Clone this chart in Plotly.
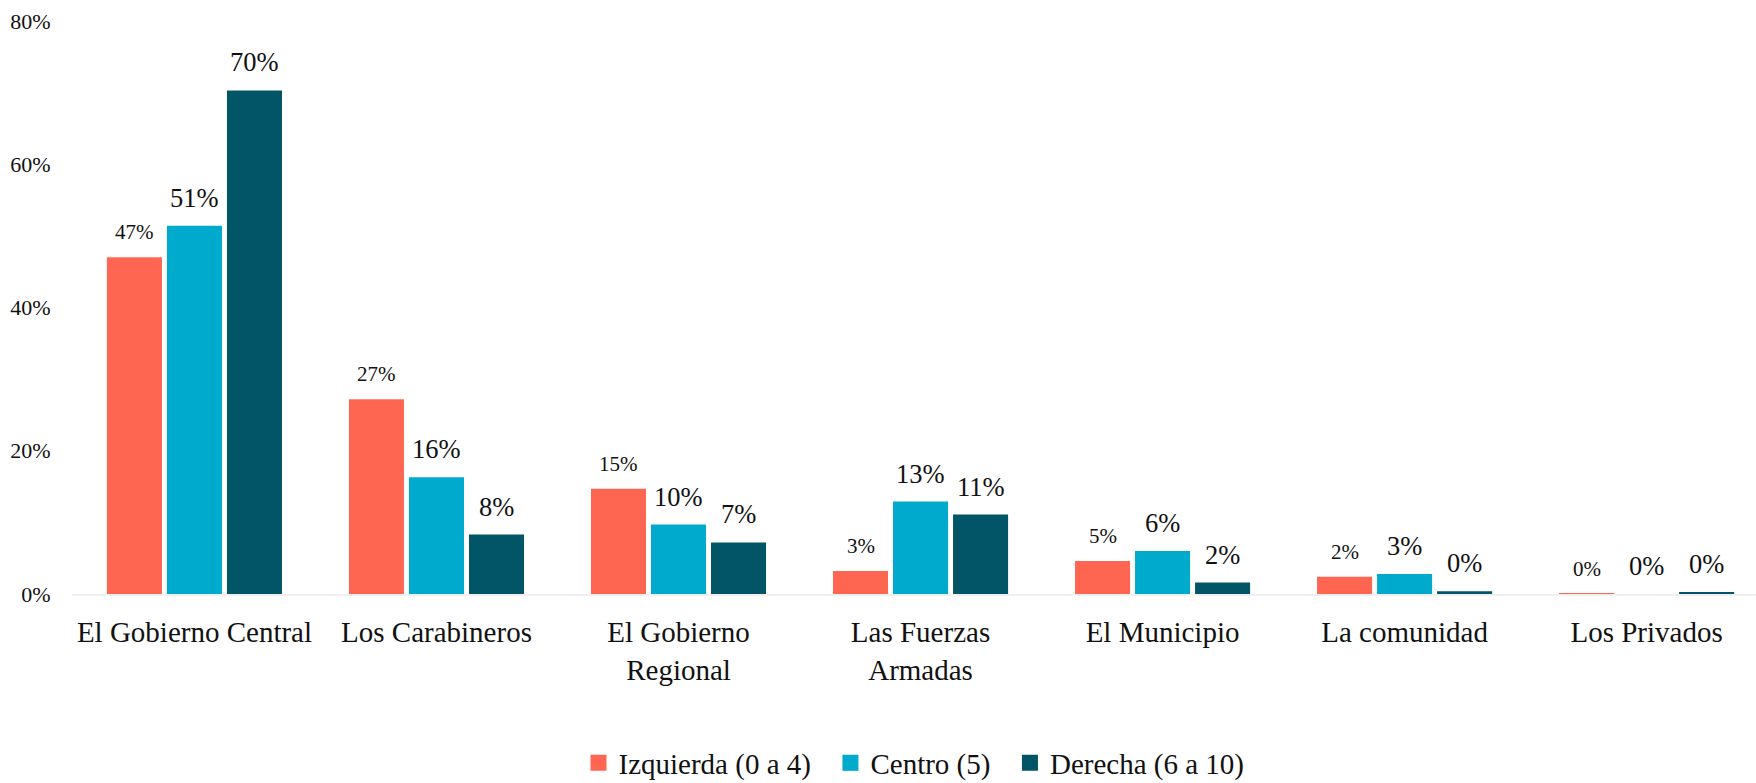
import plotly.graph_objects as go

categories = ["El Gobierno Central", "Los Carabineros", "El Gobierno<br>Regional",
              "Las Fuerzas<br>Armadas", "El Municipio", "La comunidad", "Los Privados"]

izquierda = [47.0, 27.2, 14.7, 3.2, 4.6, 2.4, 0.05]
centro = [51.4, 16.3, 9.7, 12.9, 6.0, 2.8, 0.0]
derecha = [70.3, 8.3, 7.2, 11.1, 1.6, 0.4, 0.25]

series_names = ["Izquierda (0 a 4)", "Centro (5)", "Derecha (6 a 10)"]
series_colors = ["#FF6652", "#00AACD", "#025566"]
label_sizes = [21, 26.5, 26.5]

y_ticks = [0, 20, 40, 60, 80]
y_tick_labels = ["0%", "20%", "40%", "60%", "80%"]

FONT = "Palatino Linotype, Book Antiqua, Palatino, Liberation Serif, serif"
TXT = "#111111"
SLOT_PX = 60  # pixel distance between bar centres inside a group
LEGEND_PAD = "\u00a0\u00a0"  # extra spacing between legend entries

fig = go.Figure()
annotations = []
n = len(series_names)
for k, (name, vals, col, fs) in enumerate(zip(series_names, [izquierda, centro, derecha],
                                               series_colors, label_sizes)):
    fig.add_trace(go.Bar(
        x=categories, y=vals, name=name,
        marker=dict(color=col, line=dict(width=0)),
        showlegend=False,
        hoverinfo="skip",
    ))
    fig.add_trace(go.Scatter(
        x=[None], y=[None], mode="markers",
        name=name + (LEGEND_PAD if k < n - 1 else ""),
        marker=dict(symbol="square", size=16, color=col),
        showlegend=True,
    ))
    for cat, v in zip(categories, vals):
        annotations.append(dict(
            x=cat, y=v, xref="x", yref="y",
            text=f"{round(v):.0f}%", showarrow=False,
            xanchor="center", yanchor="bottom",
            xshift=(k - 1) * SLOT_PX, yshift=11,
            font=dict(family=FONT, size=fs, color=TXT),
        ))

fig.update_layout(
    width=1756, height=783,
    margin=dict(l=72, r=0, t=21, b=189),
    paper_bgcolor="white", plot_bgcolor="white",
    barmode="group", bargap=0.256, bargroupgap=0.083,
    font=dict(family=FONT, color=TXT),
    annotations=annotations,
    legend=dict(
        orientation="h", x=0.5, xanchor="center",
        yref="container", y=20 / 783, yanchor="middle",
        font=dict(family=FONT, size=29, color=TXT),
        itemwidth=30, tracegroupgap=0,
    ),
    xaxis=dict(
        type="category",
        range=[-0.506, 6.452],
        showgrid=False, zeroline=False,
        showline=True, linecolor="#F0F0F0", linewidth=2,
        ticks="outside", ticklen=11, tickcolor="rgba(0,0,0,0)",
        tickfont=dict(family=FONT, size=29, color=TXT),
        fixedrange=True,
    ),
    yaxis=dict(
        range=[0, 80],
        tickvals=y_ticks, ticktext=y_tick_labels,
        showgrid=False, zeroline=False, showline=False,
        ticks="outside", ticklen=16, tickcolor="rgba(0,0,0,0)",
        tickfont=dict(family=FONT, size=22, color=TXT),
        fixedrange=True,
    ),
)

fig.write_html(
    "out.html",
    config={"displayModeBar": False},
    post_script="document.body.style.margin='0';document.body.style.overflow='hidden';",
)
